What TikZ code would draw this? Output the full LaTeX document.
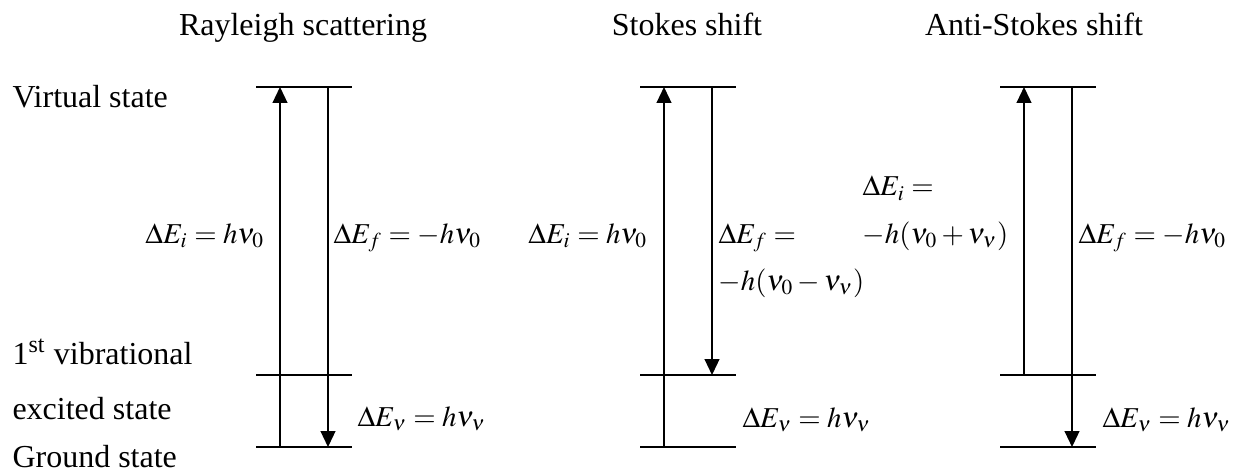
\documentclass[tikz,border=0pt]{standalone}
\usepackage{mathptmx}
\usepackage[no-math]{fontspec}
\setmainfont{Liberation Serif}
\usepackage{tikz}
\usetikzlibrary{positioning,calc,arrows.meta}

\begin{document}
\begin{tikzpicture}[x=0.375pt,y=-0.375pt,
    level/.style={line width=0.75pt},
    trans/.style={line width=0.55pt,-{Triangle[length=6pt,width=5.6pt]}},
    txt/.style={inner sep=0pt,font=\fontsize{12}{14.4}\selectfont},
    eq/.style={inner sep=0pt,font=\fontsize{10.8}{13}\selectfont,anchor=base west}]
  \useasboundingbox (0,0) rectangle (1235,473);
  % energy levels of the three schemes
  \foreach \d/\L in {ray/256,sto/640,ant/1000}{%
    \foreach \lv/\y in {top/87,vib/375,gnd/447}{%
      \coordinate (\d-\lv-w) at (\L,\y);
      \coordinate (\d-\lv-e) at (\L+96,\y);
      \coordinate (\d-\lv-u) at (\L+24,\y);
      \coordinate (\d-\lv-d) at (\L+72,\y);
      \draw[level] (\d-\lv-w) -- (\d-\lv-e);
    }
  }
  % transitions
  \draw[trans] (ray-gnd-u) -- (ray-top-u);
  \draw[trans] (ray-top-d) -- (ray-gnd-d);
  \draw[trans] (sto-gnd-u) -- (sto-top-u);
  \draw[trans] (sto-top-d) -- (sto-vib-d);
  \draw[trans] (ant-vib-u) -- (ant-top-u);
  \draw[trans] (ant-top-d) -- (ant-gnd-d);
  % titles
  \node[txt,anchor=base] (ray-title) at (303,36) {Rayleigh scattering};
  \node[txt,anchor=base] (sto-title) at (687,36) {Stokes shift};
  \node[txt,anchor=base] (ant-title) at (1034,36) {Anti-Stokes shift};
  % state names
  \node[txt,anchor=base west] (virt) at (12,108) {Virtual state};
  \node[txt,anchor=base west] (vib1) at (12,364) {1\textsuperscript{st} vibrational};
  \node[txt,anchor=base west] (vib2) at (12,419) {excited state};
  \node[txt,anchor=base west] (gnd) at (12,467) {Ground state};
  % energies
  \node[eq,anchor=base east] (ray-Ei) at (265,243) {$\Delta E_i = h\nu_0$};
  \node[eq] (ray-Ef) at (333,243) {$\Delta E_f = -h\nu_0$};
  \node[eq] (ray-Ev) at (357,426) {$\Delta E_\nu = h\nu_\nu$};
  \node[eq,anchor=base east] (sto-Ei) at (648,243) {$\Delta E_i = h\nu_0$};
  \node[eq] (sto-Ef) at (718,243) {$\Delta E_f =$};
  \node[eq] (sto-Ef2) at (718,290) {$-h(\nu_0 - \nu_\nu)$};
  \node[eq] (sto-Ev) at (742,427) {$\Delta E_\nu = h\nu_\nu$};
  \node[eq] (ant-Ei) at (862,196) {$\Delta E_i =$};
  \node[eq] (ant-Ei2) at (862,243) {$-h(\nu_0 + \nu_\nu)$};
  \node[eq] (ant-Ef) at (1078,243) {$\Delta E_f = -h\nu_0$};
  \node[eq] (ant-Ev) at (1102,427) {$\Delta E_\nu = h\nu_\nu$};
\end{tikzpicture}
\end{document}
